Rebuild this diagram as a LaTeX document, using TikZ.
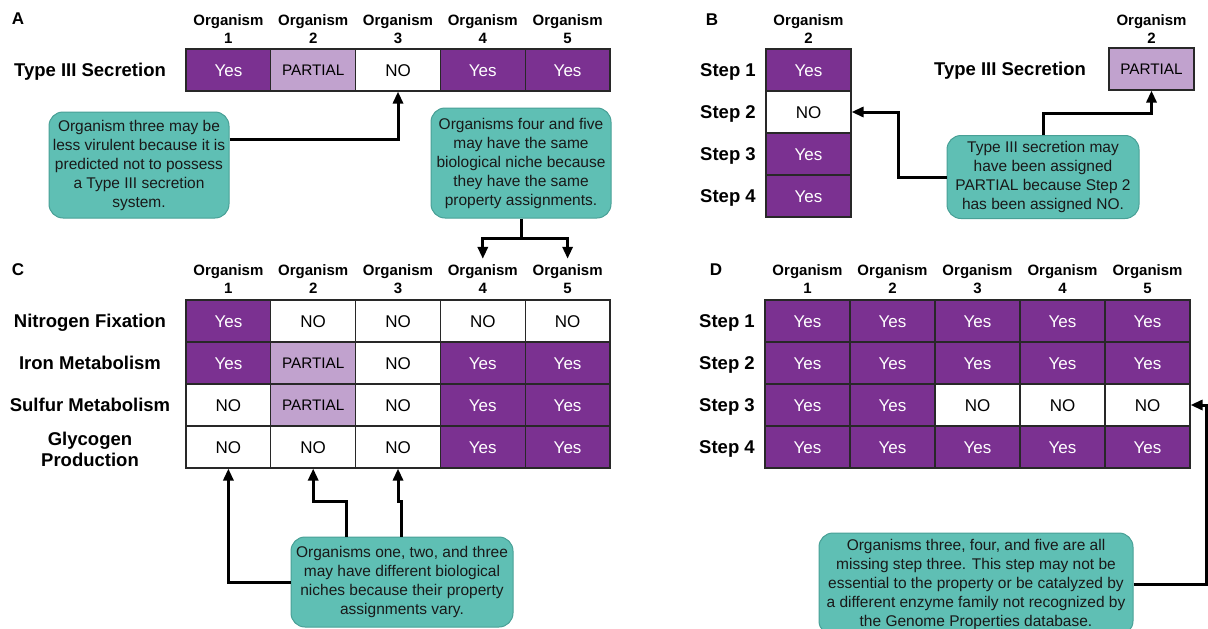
\documentclass[tikz,border=0pt]{standalone}
\usepackage{fontspec}
\setmainfont{Liberation Sans}
\usetikzlibrary{arrows.meta}

\definecolor{yescol}{RGB}{123,49,145}
\definecolor{partcol}{RGB}{193,162,206}
\definecolor{notecol}{RGB}{95,191,180}
\definecolor{noteedge}{RGB}{72,160,150}
\definecolor{gridcol}{RGB}{40,40,40}
\definecolor{notetext}{RGB}{25,25,25}

\tikzset{
  cell/.style={draw=gridcol, line width=1.1pt, minimum width=84.8pt, minimum height=42pt,
    inner sep=0pt, text height=12.2pt, text depth=0pt, font=\fontsize{17}{20}\selectfont},
  yescell/.style={cell, fill=yescol, text=white},
  nocell/.style={cell, fill=white, text=black},
  partcell/.style={cell, fill=partcol, text=black, text height=11pt, font=\fontsize{15.3}{18}\selectfont},
  hdr/.style={align=center, font=\bfseries\fontsize{15}{18}\selectfont, inner sep=0pt},
  rowlab/.style={align=center, font=\bfseries\fontsize{18.5}{21}\selectfont, inner sep=0pt},
  onelab/.style={rowlab, text height=13.3pt, text depth=0pt},
  panel/.style={font=\bfseries\fontsize{17}{20}\selectfont, inner sep=0pt},
  note/.style={draw=noteedge, fill=notecol, line width=1pt, rounded corners=14pt,
    align=center, text=notetext, font=\fontsize{15.5}{19}\selectfont, inner sep=2pt},
  link/.style={line width=3pt, -{Triangle[width=10pt,length=12pt]}},
  plain/.style={line width=3pt},
}

\begin{document}
\begin{tikzpicture}[x=1pt, y=-1pt]
\useasboundingbox (0,0) rectangle (1208,629);
\clip (0,0) rectangle (1208,629);

% ---------- Panel A ----------
\node[panel] (labA) at (18,19) {A};
\foreach \i in {1,...,5}
  \node[hdr] (ha\i) at ({228.4+84.8*(\i-1)},29) {Organism\\\i};
\node[onelab] (rowA) at (90,70) {Type III Secretion};
\foreach \st/\tx [count=\i] in {yescell/Yes, partcell/PARTIAL, nocell/NO, yescell/Yes, yescell/Yes}
  \node[\st] (a\i) at ({228.4+84.8*(\i-1)},70) {\tx};

\node[note, minimum width=180pt, minimum height=106pt] (a1note) at (139,165)
  {Organism three may be\\less virulent because it is\\predicted not to possess\\a Type III secretion\\system.};
\node[note, minimum width=180pt, minimum height=110pt] (a2note) at (521,163)
  {Organisms four and five\\may have the same\\biological niche because\\they have the same\\property assignments.};

\draw[link] ([yshift=26pt]a1note.east) -| (a3.south);

% ---------- Panel B ----------
\node[panel] (labB) at (712,20) {B};
\node[hdr] (hb) at (808.5,29) {Organism\\2};
\foreach \st/\tx [count=\i] in {yescell/Yes, nocell/NO, yescell/Yes, yescell/Yes}
  \node[\st, minimum width=85pt] (b\i) at (808.5,{70+42*(\i-1)}) {\tx};
\foreach \i in {1,...,4}
  \node[onelab] (sb\i) at (728,{70+42*(\i-1)}) {Step \i};
\node[onelab] (rowB) at (1010,69) {Type III Secretion};
\node[hdr] (hbp) at (1151.5,29) {Organism\\2};
\node[partcell, minimum width=85pt] (bpart) at (1151.5,69) {PARTIAL};

\node[note, minimum width=192pt, minimum height=83pt] (bnote) at (1043,177)
  {Type III secretion may\\have been assigned\\PARTIAL because Step 2\\has been assigned NO.};
\draw[link] (bnote.west) -- ++(-48,0) |- (b2.east);
\draw[link] (bnote.north) -- ++(0,-22) -| (bpart.south);

% ---------- Panel C ----------
\node[panel] (labC) at (18,270) {C};
\foreach \i in {1,...,5}
  \node[hdr] (hc\i) at ({228.4+84.8*(\i-1)},279.5) {Organism\\\i};
\node[onelab] (rc1) at (90,321) {Nitrogen Fixation};
\node[onelab] (rc2) at (90,363) {Iron Metabolism};
\node[onelab] (rc3) at (90,405) {Sulfur Metabolism};
\node[rowlab] (rc4) at (90,449) {Glycogen\\Production};
\foreach \st/\tx [count=\i] in {yescell/Yes, nocell/NO, nocell/NO, nocell/NO, nocell/NO}
  \node[\st] (c1\i) at ({228.4+84.8*(\i-1)},321) {\tx};
\foreach \st/\tx [count=\i] in {yescell/Yes, partcell/PARTIAL, nocell/NO, yescell/Yes, yescell/Yes}
  \node[\st] (c2\i) at ({228.4+84.8*(\i-1)},363) {\tx};
\foreach \st/\tx [count=\i] in {nocell/NO, partcell/PARTIAL, nocell/NO, yescell/Yes, yescell/Yes}
  \node[\st] (c3\i) at ({228.4+84.8*(\i-1)},405) {\tx};
\foreach \st/\tx [count=\i] in {nocell/NO, nocell/NO, nocell/NO, yescell/Yes, yescell/Yes}
  \node[\st] (c4\i) at ({228.4+84.8*(\i-1)},447) {\tx};

% arrows from the shared-niche note down to organisms four and five
\coordinate (a2split) at (521,238);
\draw[plain] (a2note.south) -- (a2split);
\draw[link] (a2split) -| ([yshift=6pt]hc4.north);
\draw[link] (a2split) -| ([yshift=6pt]hc5.north);

\node[note, minimum width=222pt, minimum height=90pt] (cnote) at (402,582)
  {Organisms one, two, and three\\may have different biological\\niches because their property\\assignments vary.};
\draw[link] (cnote.west) -| (c41.south);
\draw[link] ([xshift=-56pt]cnote.north) -- ++(0,-35) -| (c42.south);
\draw[link] ([xshift=-1pt]cnote.north) -- ++(0,-35) -| (c43.south);

% ---------- Panel D ----------
\node[panel] (labD) at (716,270) {D};
\foreach \i in {1,...,5}
  \node[hdr] (hd\i) at ({807.5+85*(\i-1)},279.5) {Organism\\\i};
\foreach \i in {1,...,4}
  \node[onelab] (sd\i) at (727,{321+42*(\i-1)}) {Step \i};
\foreach \i in {1,...,5}
  \node[yescell, minimum width=85pt] (d1\i) at ({807.5+85*(\i-1)},321) {Yes};
\foreach \i in {1,...,5}
  \node[yescell, minimum width=85pt] (d2\i) at ({807.5+85*(\i-1)},363) {Yes};
\foreach \st/\tx [count=\i] in {yescell/Yes, yescell/Yes, nocell/NO, nocell/NO, nocell/NO}
  \node[\st, minimum width=85pt] (d3\i) at ({807.5+85*(\i-1)},405) {\tx};
\foreach \i in {1,...,5}
  \node[yescell, minimum width=85pt] (d4\i) at ({807.5+85*(\i-1)},447) {Yes};

\node[note, minimum width=314pt, minimum height=102pt] (dnote) at (976,584)
  {Organisms three, four, and five are all\\missing step three. This step may not be\\essential to the property or be catalyzed by\\a different enzyme family not recognized by\\the Genome Properties database.};
\draw[link] (dnote.east) -- ++(73,0) |- (d35.east);

\end{tikzpicture}
\end{document}
